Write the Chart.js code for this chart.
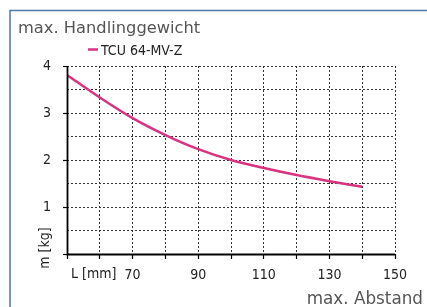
<!DOCTYPE html>
<html>
<head>
<meta charset="utf-8">
<script src="https://cdn.jsdelivr.net/npm/chart.js@4.4.0/dist/chart.umd.min.js"></script>
<style>
  html, body { margin: 0; padding: 0; background: #fff; }
  #wrap { width: 427px; height: 307px; position: relative; }
</style>
</head>
<body>
<div id="wrap"><canvas id="myChart" width="427" height="307"></canvas></div>
<script>
// data
var lengths = [50, 60, 70, 80, 90, 100, 110, 120, 130, 140];
var masses = [3.81, 3.33, 2.89, 2.53, 2.23, 2.0, 1.83, 1.68, 1.55, 1.43];
var seriesName = 'TCU 64-MV-Z';
var xLabels = [70, 90, 110, 130, 150];
var yLabels = [1, 2, 3, 4];

var pink = '#d9327f';
var bigFont = '"DejaVu Sans", sans-serif';
var smallFont = '"DejaVu Sans Condensed", "DejaVu Sans", sans-serif';

function align(px) { return Math.round(px - 0.5) + 0.5; }

// frame, titles, legend, axis captions
var extras = {
  id: 'extras',
  beforeDraw: function (chart) {
    var c = chart.ctx;
    c.save();
    c.strokeStyle = '#4f7aa3';
    c.lineWidth = 1.5;
    c.beginPath();
    c.moveTo(10, 307);
    c.lineTo(10, 10.5);
    c.lineTo(427, 10.5);
    c.stroke();
    c.restore();
  },
  afterDatasetsDraw: function (chart) {
    // solid axis lines on top (grid uses the dotted dash)
    var c = chart.ctx, a = chart.chartArea;
    var x0 = align(chart.scales.x.getPixelForValue(50));
    var y0 = align(chart.scales.y.getPixelForValue(0));
    c.save();
    c.setLineDash([]);
    c.strokeStyle = '#000';
    c.lineWidth = 1.8;
    c.beginPath();
    c.moveTo(x0, a.top);
    c.lineTo(x0, y0);
    c.lineTo(a.right, y0);
    c.stroke();
    c.restore();
  },
  afterDraw: function (chart) {
    var c = chart.ctx;
    c.save();
    c.fillStyle = '#555';
    c.textBaseline = 'alphabetic';
    c.textAlign = 'left';
    c.font = '16.3px ' + bigFont;
    c.fillText('max. Handlinggewicht', 18, 33);
    c.textAlign = 'right';
    c.font = '16.8px ' + bigFont;
    c.fillText('max. Abstand', 423, 304);

    // legend
    c.strokeStyle = pink;
    c.lineWidth = 2.5;
    c.beginPath();
    c.moveTo(88, 49.5);
    c.lineTo(98, 49.5);
    c.stroke();
    c.fillStyle = '#222';
    c.font = '14px ' + smallFont;
    c.textAlign = 'left';
    c.textBaseline = 'middle';
    c.fillText(seriesName, 101, 51);

    // axis captions
    c.fillText('L [mm]', 71, 274);
    c.translate(45, 248);
    c.rotate(-Math.PI / 2);
    c.textAlign = 'center';
    c.fillText('m [kg]', 0, 0);
    c.restore();
  }
};

const ctx = document.getElementById('myChart');
const myChart = new Chart(ctx, {
  type: 'line',
  data: {
    datasets: [{
      label: seriesName,
      data: lengths.map(function (l, i) { return { x: l, y: masses[i] }; }),
      borderColor: pink,
      borderWidth: 2.5,
      pointRadius: 0,
      cubicInterpolationMode: 'monotone',
      fill: false
    }]
  },
  options: {
    responsive: false,
    animation: false,
    layout: { padding: { left: 37, right: 32, top: 66, bottom: 28 } },
    scales: {
      x: {
        type: 'linear',
        min: 50,
        max: 150,
        afterFit: function (s) { s.height = 25; },
        grid: {
          color: function (c) { return c.tick && c.tick.value === 50 ? 'rgba(0,0,0,0)' : '#333'; },
          lineWidth: 1,
          tickLength: 5,
          tickColor: '#000',
          tickBorderDash: [],
          tickWidth: 1.2
        },
        border: { display: false, dash: [2, 2] },
        ticks: {
          stepSize: 10,
          padding: 8,
          maxRotation: 0,
          autoSkip: false,
          color: '#222',
          font: { family: smallFont, size: 14 },
          callback: function (v) { return xLabels.indexOf(v) > -1 ? String(v) : ''; }
        }
      },
      y: {
        min: 0,
        max: 4,
        afterFit: function (s) { s.width = 30; },
        grid: {
          color: function (c) { return c.tick && c.tick.value === 0 ? 'rgba(0,0,0,0)' : '#333'; },
          lineWidth: 1,
          tickLength: 4,
          tickColor: function (c) { return c.tick && c.tick.value % 1 === 0 ? '#000' : 'rgba(0,0,0,0)'; },
          tickBorderDash: [],
          tickWidth: 1.2
        },
        border: { display: false, dash: [2, 2] },
        ticks: {
          stepSize: 0.5,
          padding: 12,
          autoSkip: false,
          color: '#222',
          font: { family: smallFont, size: 14 },
          callback: function (v) { return yLabels.indexOf(v) > -1 ? String(v) : ''; }
        }
      }
    },
    plugins: {
      legend: { display: false },
      tooltip: { enabled: false }
    }
  },
  plugins: [extras]
});
</script>
</body>
</html>
